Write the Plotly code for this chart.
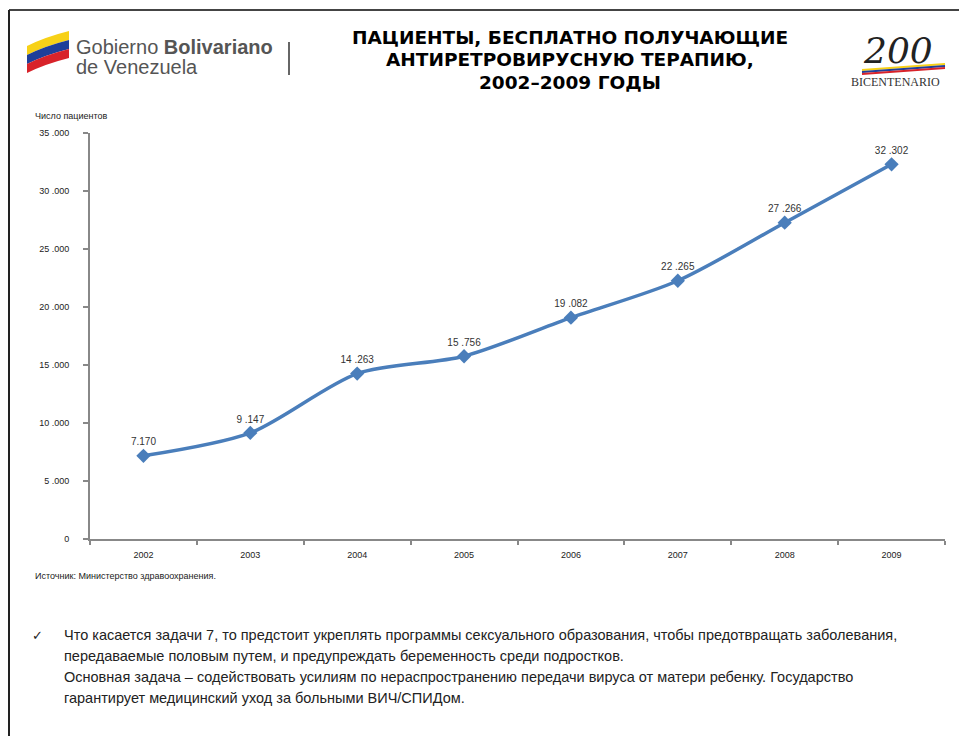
import plotly.graph_objects as go

# -------------------------
# DATA
# -------------------------
years = ["2002", "2003", "2004", "2005", "2006", "2007", "2008", "2009"]
patients = [7170, 9147, 14263, 15756, 19082, 22265, 27266, 32302]
point_labels = ["7.170", "9 .147", "14 .263", "15 .756", "19 .082", "22 .265", "27 .266", "32 .302"]
y_ticks = [0, 5000, 10000, 15000, 20000, 25000, 30000, 35000]
y_tick_labels = ["0", "5 .000", "10 .000", "15 .000", "20 .000", "25 .000", "30 .000", "35 .000"]

title_lines = ["ПАЦИЕНТЫ, БЕСПЛАТНО ПОЛУЧАЮЩИЕ", "АНТИРЕТРОВИРУСНУЮ ТЕРАПИЮ,", "2002–2009 ГОДЫ"]
note_lines = [
    "Что касается задачи 7, то предстоит укреплять программы сексуального образования, чтобы предотвращать заболевания,",
    "передаваемые половым путем, и предупреждать беременность среди подростков.",
    "Основная задача – содействовать усилиям по нераспространению передачи вируса от матери ребенку. Государство",
    "гарантирует медицинский уход за больными ВИЧ/СПИДом.",
]

# page body adds an 8px offset, so the figure is drawn 8px smaller
OFF = 8
W, H = 967 - OFF, 736 - OFF
L, R, T, B = 90, 945, 133, 539   # plot area in page pixels
NARROW = "Liberation Sans Narrow, Arial Narrow, Liberation Sans, Arial"


def px(x):
    return (x - L) / (R - L)


def py(y):
    return (B - y) / (B - T)


fig = go.Figure()
fig.add_trace(go.Scatter(
    x=years,
    y=patients,
    mode="lines+markers+text",
    line=dict(color="#4a7ebb", width=3.5, shape="spline", smoothing=0.8),
    marker=dict(symbol="diamond", size=11, color="#4a7ebb"),
    text=point_labels,
    textposition="top center",
    textfont=dict(size=10, color="#333333", family=NARROW),
    cliponaxis=False,
    showlegend=False,
))

fig.update_layout(
    width=W, height=H,
    margin=dict(l=L - OFF, r=W - (R - OFF), t=T - OFF, b=H - (B - OFF)),
    paper_bgcolor="white",
    plot_bgcolor="white",
    font=dict(family=NARROW, color="#222222"),
    xaxis=dict(
        range=[-0.5, 7.5], showgrid=False, showline=True, linecolor="#888888", linewidth=2,
        ticks="outside", tickson="boundaries", ticklen=4, tickcolor="#888888", tickwidth=2,
        tickfont=dict(size=9, color="#222222"), ticklabelstandoff=6,
    ),
    yaxis=dict(
        range=[0, 35000], showgrid=False, showline=True, linecolor="#888888", linewidth=2,
        ticks="outside", ticklen=5, tickcolor="#888888", tickwidth=2,
        tickvals=y_ticks, ticktext=y_tick_labels, tickfont=dict(size=9, color="#222222"),
        ticklabelstandoff=12, zeroline=False,
    ),
)


def note(x, y, text, size, anchor="left", family=None, color="#222222"):
    f = dict(size=size, color=color)
    if family:
        f["family"] = family
    return dict(x=px(x), y=py(y), xref="paper", yref="paper", text=text, showarrow=False,
                xanchor=anchor, yanchor="middle", font=f)


ann = []
# title
for i, line in enumerate(title_lines):
    ann.append(note(570, 38 + i * 22, "<b>" + line + "</b>", 18.5, "center", "DejaVu Sans, Arial", "#000000"))
# y axis title and source
ann.append(note(33, 116, "Число пациентов", 9))
ann.append(note(33, 576, "Источник: Министерство здравоохранения.", 9))
# bullet text
ann.append(note(30, 635, "✓", 13, family="DejaVu Sans"))
for i, line in enumerate(note_lines):
    ann.append(note(62, 635 + i * 21, line, 14.5))
# logo texts
ann.append(note(74, 47, "Gobierno <b>Bolivariano</b>", 20, family="Liberation Sans, Arial", color="#555555"))
ann.append(note(74, 67, "de Venezuela", 20, family="Liberation Sans, Arial", color="#555555"))
ann.append(note(898, 50, "<i>200</i>", 36, "center", "DejaVu Serif", "#222222"))
ann.append(note(895, 82, "BICENTENARIO", 12, "center", "Liberation Serif", "#333333"))
fig.update_layout(annotations=ann)

shapes = []
# frame
shapes.append(dict(type="line", xref="paper", yref="paper", x0=px(9), x1=px(967), y0=py(10), y1=py(10),
                   line=dict(color="#444444", width=2)))
shapes.append(dict(type="line", xref="paper", yref="paper", x0=px(9), x1=px(9), y0=py(10), y1=py(740),
                   line=dict(color="#222222", width=2)))
# divider next to logo
shapes.append(dict(type="line", xref="paper", yref="paper", x0=px(289), x1=px(289), y0=py(42), y1=py(75),
                   line=dict(color="#666666", width=2)))
# flag stripes
flag_colors = ["#f7d117", "#1f3f9a", "#d8232a"]
for i, c in enumerate(flag_colors):
    y0 = 38 + i * 9
    path = (f"M {px(27)},{py(y0 + 8)} Q {px(45)},{py(y0 - 1)} {px(69)},{py(y0 - 7)} "
            f"L {px(69)},{py(y0 + 2)} Q {px(45)},{py(y0 + 8)} {px(27)},{py(y0 + 17)} Z")
    shapes.append(dict(type="path", xref="paper", yref="paper", path=path, fillcolor=c, line=dict(width=0)))
# bicentenario ribbon
for i, c in enumerate(["#f7d117", "#1f3f9a", "#d8232a"]):
    shapes.append(dict(type="line", xref="paper", yref="paper", x0=px(862), x1=px(945),
                       y0=py(70 + i * 2), y1=py(64 + i * 2), line=dict(color=c, width=2)))
fig.update_layout(shapes=shapes)

fig.write_html("out.html")
